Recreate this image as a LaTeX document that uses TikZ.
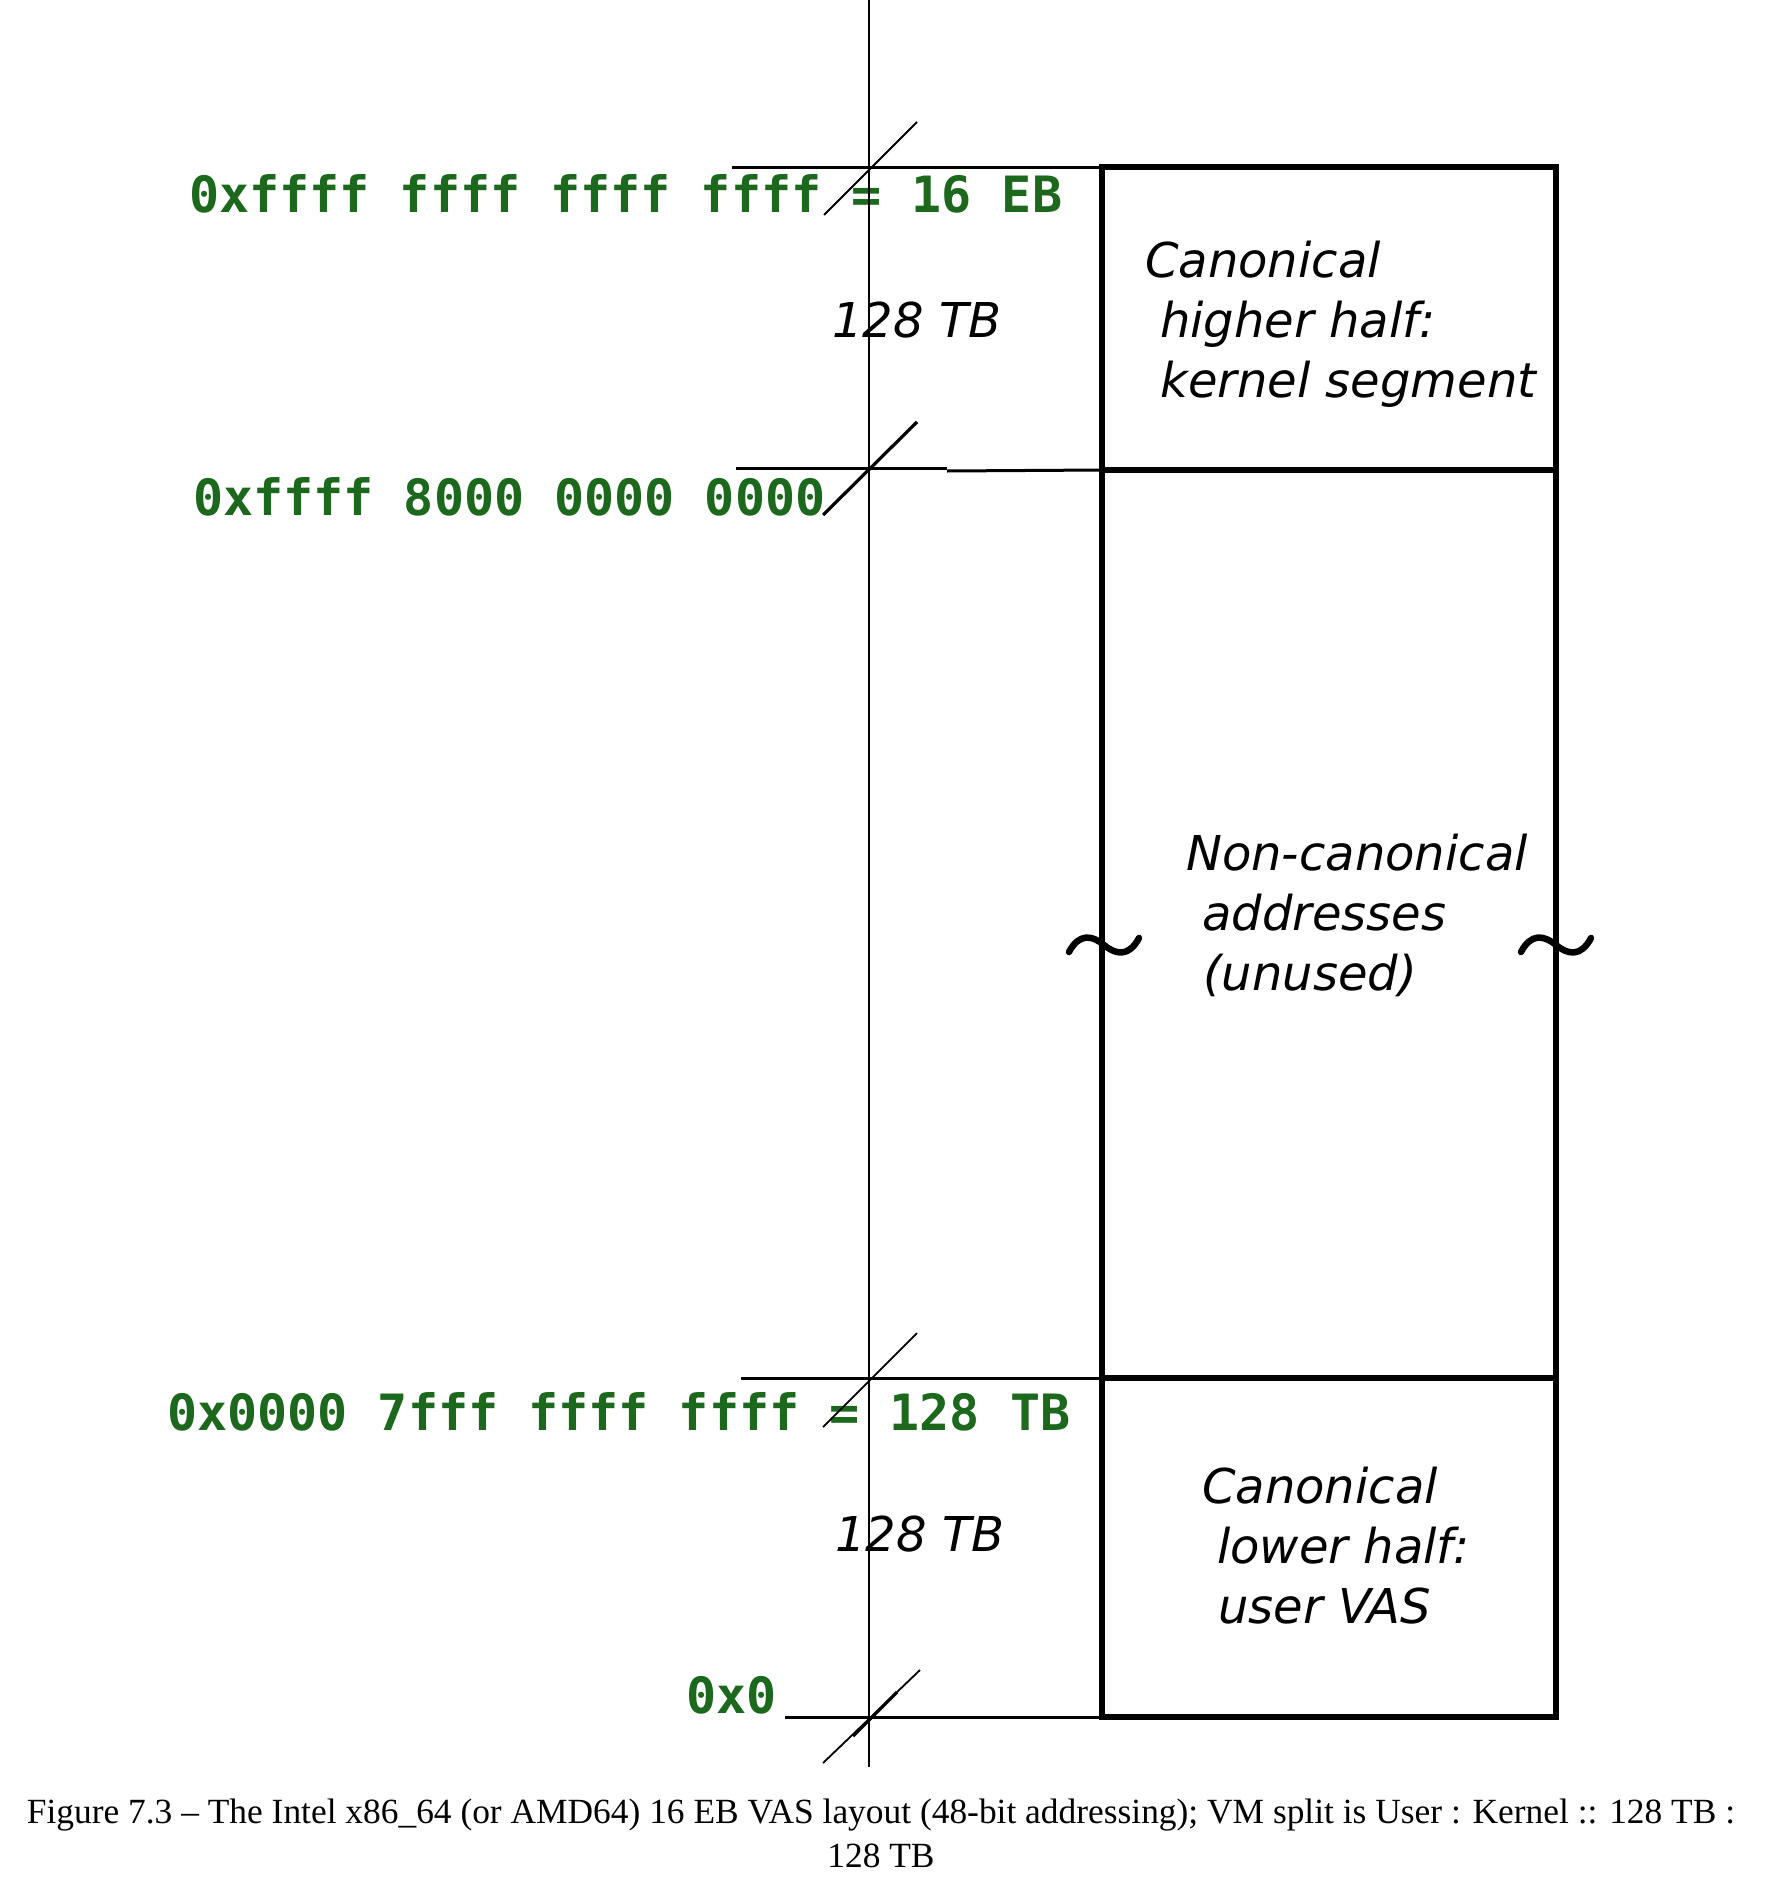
\documentclass[tikz,border=0pt]{standalone}
\usepackage{fontspec}
\setmainfont{Liberation Serif}
\newfontfamily\addrfont{DejaVu Sans Mono}
\newfontfamily\labfont{DejaVu Sans}
\definecolor{addrgreen}{RGB}{28,104,28}
\tikzset{
  addr/.style={font=\addrfont\bfseries\fontsize{50}{60}\selectfont, text=addrgreen, anchor=base west, inner sep=0pt},
  lab/.style={font=\labfont\itshape\fontsize{48}{60}\selectfont, anchor=base west, inner sep=0pt},
  capt/.style={font=\fontsize{35.4}{43}\selectfont, anchor=base, inner sep=0pt},
  axisline/.style={line width=2.8pt},
  level/.style={line width=3pt},
  boxline/.style={line width=6pt},
  tickthin/.style={line width=1.8pt},
  tickthick/.style={line width=3.2pt},
  tildeline/.style={line width=6.5pt, line cap=round},
}
\begin{document}
\begin{tikzpicture}[x=1pt,y=-1pt]
\useasboundingbox (0,0) rectangle (1782,1892);

% address labels
\node[addr] (a1) at (189,212) {0xffff ffff ffff ffff = 16 EB};
\node[addr] (a2) at (193,515) {0xffff 8000 0000 0000};
\node[addr] (a3) at (167,1430) {0x0000 7fff ffff ffff = 128 TB};
\node[addr] (a4) at (686,1713) {0x0};

% size labels
\node[lab] (s1) at (832,337) {128 TB};
\node[lab] (s2) at (835,1551) {128 TB};

% box labels
\node[lab] (k1) at (1145,277) {Canonical};
\node[lab] (k2) at (1160,337) {higher half:};
\node[lab] (k3) at (1160,397) {kernel segment};
\node[lab] (n1) at (1186,870) {Non-canonical};
\node[lab] (n2) at (1202,930) {addresses};
\node[lab] (n3) at (1203,990) {(unused)};
\node[lab] (u1) at (1202,1503) {Canonical};
\node[lab] (u2) at (1217,1563) {lower half:};
\node[lab] (u3) at (1218,1623) {user VAS};

% caption
\node[capt] (c1) at (881,1823) {Figure 7.3 \textendash{} The Intel x86\_64 (or AMD64) 16 EB VAS layout (48-bit addressing); VM split is User : Kernel :: 128 TB :};
\node[capt] (c2) at (881,1867) {128 TB};

% axis
\coordinate (axT) at (869,0);
\coordinate (axB) at (869,1767);
\draw[axisline] (axT) -- (axB);

% box corners and dividers
\coordinate (bTL) at (1101.5,167);
\coordinate (bTR) at (1556,167);
\coordinate (bBL) at (1101.5,1717);
\coordinate (bBR) at (1556,1717);
\coordinate (d1L) at (1101.5,470);
\coordinate (d1R) at (1556,470);
\coordinate (d2L) at (1101.5,1378);
\coordinate (d2R) at (1556,1378);

% level lines outside the box
\coordinate (l1) at (732,167);
\coordinate (l2) at (736,468);
\coordinate (l2a) at (947,468);
\coordinate (l2b) at (947,471);
\coordinate (l3) at (741,1378);
\coordinate (l4) at (785,1717);
\draw[level] (l1) -- (bTL);
\draw[level] (l2) -- (l2a);
\draw[level] (l2b) -- (d1L);
\draw[level] (l3) -- (d2L);
\draw[level] (l4) -- (bBL);

\draw[boxline, line join=miter] (bTL) rectangle (bBR);
\draw[boxline] (d1L) -- (d1R);
\draw[boxline] (d2L) -- (d2R);

% break ticks
\coordinate (t1a) at (824,215); \coordinate (t1b) at (917,122);
\coordinate (t2a) at (823,515); \coordinate (t2b) at (917,422);
\coordinate (t3a) at (823,1427); \coordinate (t3b) at (917,1333);
\coordinate (t4a) at (823,1763); \coordinate (t4b) at (920,1670);
\coordinate (t4c) at (853,1736); \coordinate (t4d) at (897,1692);
\draw[tickthin] (t1a) -- (t1b);
\draw[tickthick] (t2a) -- (t2b);
\draw[tickthin] (t3a) -- (t3b);
\draw[tickthin] (t4a) -- (t4b);
\draw[tickthick] (t4c) -- (t4d);

% tildes on box sides
\draw[tildeline] (1069,952) .. controls (1079,933) and (1092,935) .. (1104,945) .. controls (1116,955) and (1129,957) .. (1139,938);
\draw[tildeline] (1521,952) .. controls (1531,933) and (1544,935) .. (1556,945) .. controls (1568,955) and (1581,957) .. (1591,938);
\end{tikzpicture}
\end{document}
